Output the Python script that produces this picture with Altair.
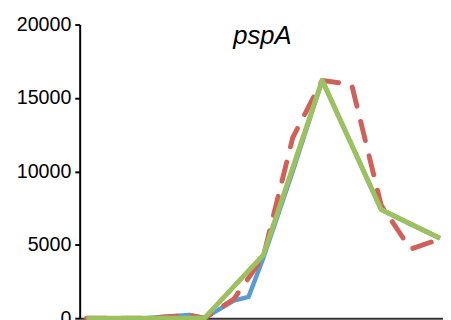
import altair as alt
import pandas as pd

# time index (category step) and expression values
blue_x = [0, 1, 2, 3, 3.5, 4, 5, 5.5, 6, 7, 8, 9, 10, 11, 12]
blue_y = [0, 0, 0, 150, 220, 0, 1200, 1450, 4100, 10000, 16200, 11800, 7400, 6400, 5450]

red_x = [0, 1, 2, 3, 3.5, 4, 5, 6, 7, 8, 9, 10, 11, 12]
red_y = [0, 0, 0, 120, 200, 0, 1300, 4200, 12300, 16200, 15900, 7700, 4700, 5400]

green_x = [0, 1, 2, 3, 4, 6, 8, 10, 12]
green_y = [0, 0, 0, 0, 0, 4300, 16200, 7400, 5450]

series_names = ["blue", "red", "green"]
series_colors = ["#5B9BD5", "#D0605A", "#9DC15E"]
title_text = ["pspA"]

rows = []
for name, xs, ys in [("blue", blue_x, blue_y), ("red", red_x, red_y), ("green", green_x, green_y)]:
    for i, (x, y) in enumerate(zip(xs, ys)):
        rows.append({"series": name, "t": x, "value": y, "order": i})
df = pd.DataFrame(rows)

x_scale = alt.Scale(domain=[-0.233, 12.1], nice=False, zero=False)
y_scale = alt.Scale(domain=[0, 20000], nice=False)
color_scale = alt.Scale(domain=series_names, range=series_colors)

base = alt.Chart(df).encode(
    x=alt.X("t:Q", scale=x_scale,
            axis=alt.Axis(title=None, labels=False, ticks=False, grid=False,
                          domainColor="#333333", domainWidth=2)),
    y=alt.Y("value:Q", scale=y_scale,
            axis=alt.Axis(title=None, values=[0, 5000, 10000, 15000, 20000], format="d",
                          grid=False, domainColor="black", domainWidth=2, tickColor="black",
                          tickWidth=2, tickSize=5, labelFont="Liberation Sans", labelFontSize=20,
                          labelColor="black", labelPadding=4)),
    color=alt.Color("series:N", scale=color_scale, legend=None),
    order="order:Q",
)

blue = base.transform_filter(alt.datum.series == "blue").mark_line(strokeWidth=4.5, strokeJoin="round")
red = base.transform_filter(alt.datum.series == "red").mark_line(
    strokeWidth=5, strokeDash=[20, 16], strokeCap="round", strokeJoin="round")
green = base.transform_filter(alt.datum.series == "green").mark_line(strokeWidth=5, strokeJoin="round")

title = alt.Chart(pd.DataFrame({"label": title_text})).mark_text(
    font="Liberation Sans", fontSize=26, fontStyle="italic", color="black",
    align="center", baseline="alphabetic"
).encode(text="label:N", x=alt.value(186), y=alt.value(20))

chart = alt.layer(blue, red, green, title).properties(
    width=370, height=299,
    autosize=alt.AutoSizeParams(type="none"),
    padding={"left": 73, "top": 14, "right": 0, "bottom": 0},
).configure_view(stroke=None)

chart.save("out.html", embed_options={"renderer": "svg", "actions": False})
